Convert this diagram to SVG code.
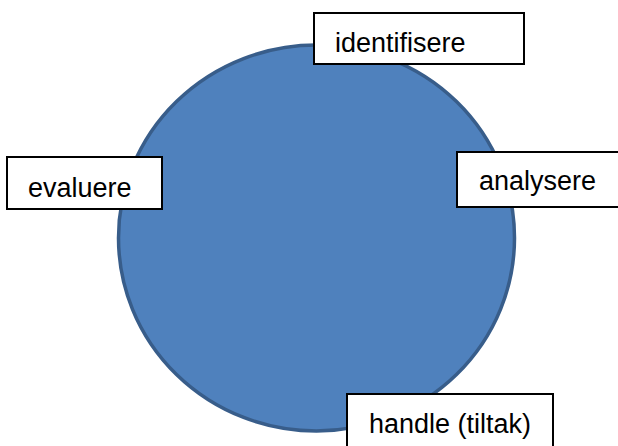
<svg xmlns="http://www.w3.org/2000/svg" width="618" height="446" viewBox="0 0 618 446">
<style>
.box{fill:#ffffff;stroke:#000000;stroke-width:2}
.lbl{font-family:"Liberation Sans",Arial,sans-serif;font-size:27px;fill:#000000}
.circle{fill:#4F81BD;stroke:#385D8A;stroke-width:3.5}
</style>
<rect width="618" height="446" fill="#ffffff"/>
<g id="cycle">
<ellipse class="circle" cx="316.5" cy="238" rx="198" ry="193"/>
</g>
<g id="connectors"></g>
<g id="identifisere">
<rect class="box" x="314" y="13" width="210" height="51"/>
<text class="lbl" x="335" y="52">identifisere</text>
</g>
<g id="evaluere">
<rect class="box" x="7" y="157" width="155" height="52"/>
<text class="lbl" x="28" y="197">evaluere</text>
</g>
<g id="analysere">
<rect class="box" x="457" y="152" width="170" height="55"/>
<text class="lbl" x="479" y="190">analysere</text>
</g>
<g id="handle">
<rect class="box" x="347" y="394" width="206" height="62"/>
<text class="lbl" x="369" y="433">handle (tiltak)</text>
</g>
</svg>
